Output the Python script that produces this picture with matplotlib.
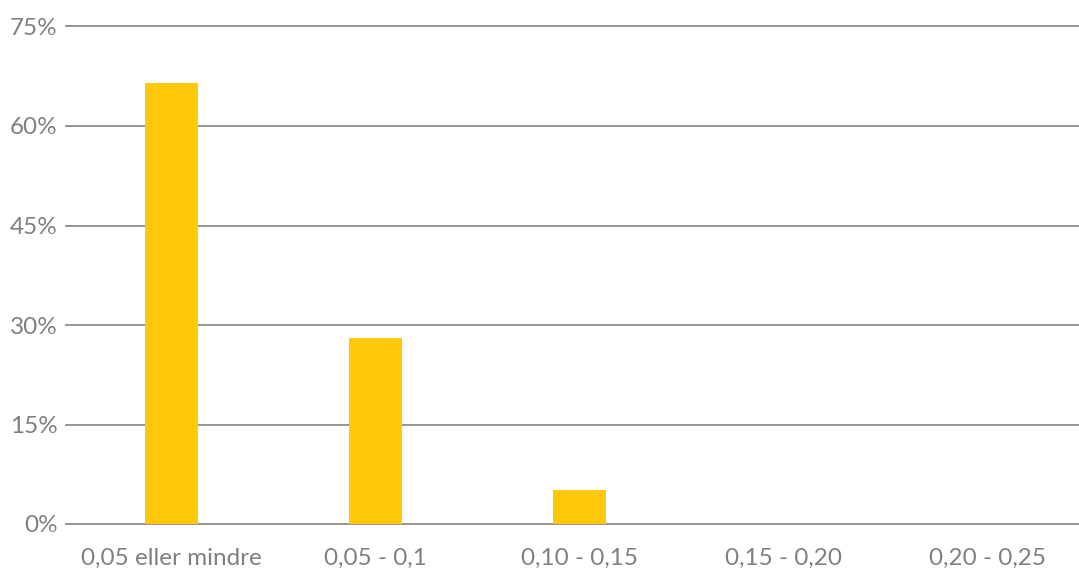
import matplotlib.pyplot as plt
from matplotlib.ticker import FuncFormatter

# Data
categories = ['0,05 eller mindre', '0,05 - 0,1', '0,10 - 0,15', '0,15 - 0,20', '0,20 - 0,25']
shares = [66.5, 28.0, 5.2, 0.0, 0.0]
yticks = [0, 15, 30, 45, 60, 75]

plt.rcParams['font.family'] = ['Lato', 'DejaVu Sans']

fig = plt.figure(figsize=(10.79, 5.68), dpi=100)
ax = fig.add_axes([66 / 1079, 44 / 568, 1013 / 1079, (524 - 26.5) / 568])

x = range(len(categories))
ax.bar(x, shares, width=0.26, color='#FFC80B', zorder=3)

ax.set_ylim(0, 75)
ax.set_xlim(-0.517, 4.449)
ax.set_yticks(yticks)
ax.yaxis.set_major_formatter(FuncFormatter(lambda v, p: f'{int(v)}%'))
ax.set_xticks(list(x))
ax.set_xticklabels(categories)

ax.grid(axis='y', color='#8c8c8c', linewidth=1.3, zorder=1)
for line in ax.get_ygridlines():
    line.set_clip_on(False)
for s in ax.spines.values():
    s.set_visible(False)
ax.tick_params(axis='both', length=0, labelsize=17.5, colors='#808080')
ax.tick_params(axis='y', pad=6)
ax.tick_params(axis='x', pad=17)

fig.savefig('out.png', dpi=100)
